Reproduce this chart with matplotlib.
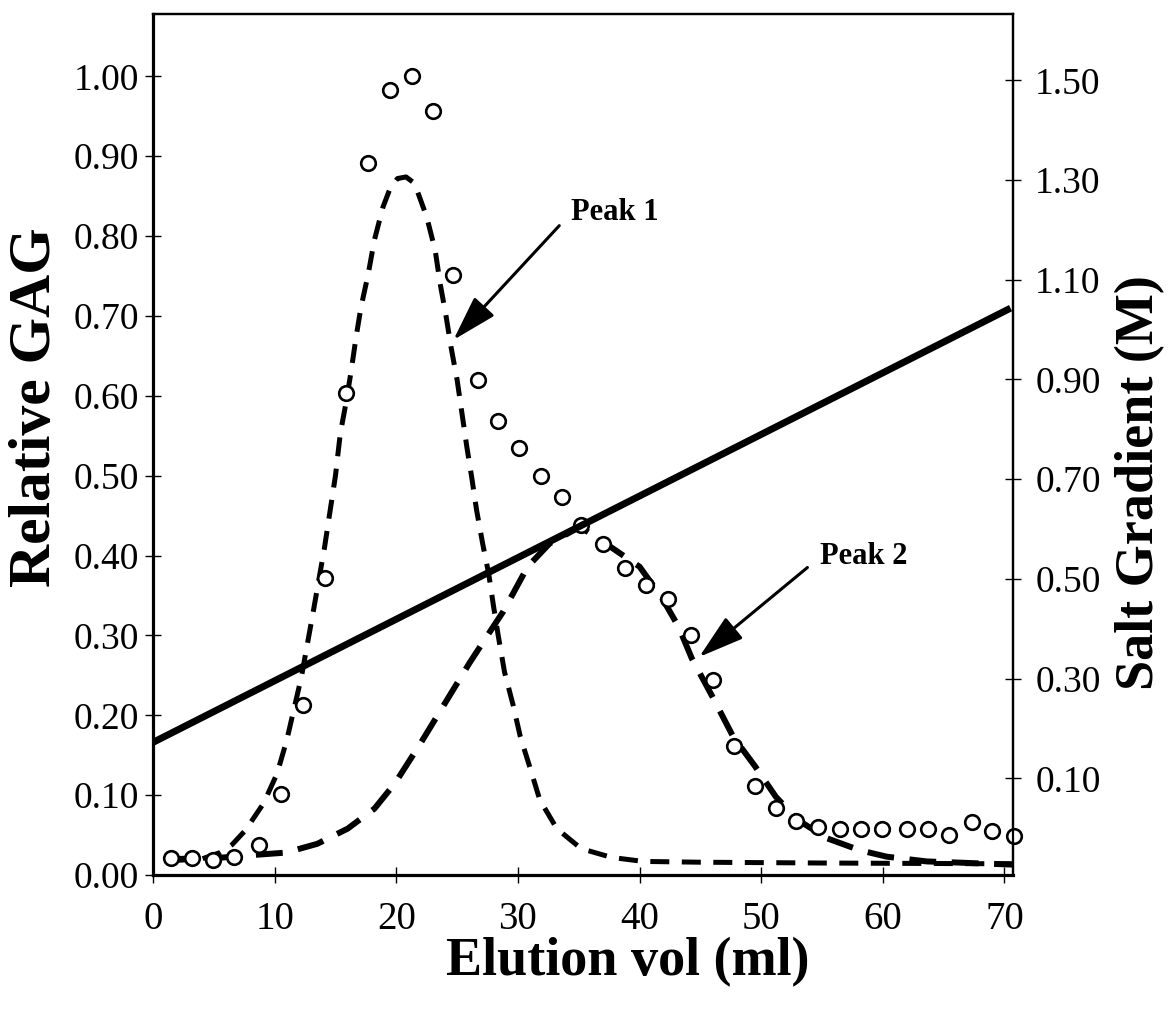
import matplotlib
matplotlib.use('Agg')
from matplotlib import pyplot as plt

plt.rcParams['font.family'] = ['Liberation Serif', 'DejaVu Serif']

# measured GAG (open circles)
gag_x = [1.45, 3.2, 4.9, 6.7, 8.7, 10.5, 12.3, 14.1, 15.9, 17.7, 19.5, 21.3,
         23.0, 24.7, 26.7, 28.4, 30.1, 31.9, 33.6, 35.2, 37.0, 38.8, 40.5,
         42.3, 44.2, 46.0, 47.8, 49.5, 51.2, 52.9, 54.7, 56.5, 58.2, 59.9,
         62.0, 63.7, 65.4, 67.3, 69.0, 70.8]
gag_y = [0.021, 0.021, 0.019, 0.022, 0.037, 0.101, 0.213, 0.372, 0.603,
         0.891, 0.983, 1.000, 0.956, 0.751, 0.620, 0.568, 0.534, 0.500,
         0.473, 0.438, 0.414, 0.384, 0.363, 0.345, 0.301, 0.244, 0.162,
         0.112, 0.084, 0.068, 0.060, 0.057, 0.057, 0.057, 0.057, 0.057,
         0.050, 0.066, 0.055, 0.049]

# fitted peak 1 (short dashes)
p1_x = [1.5, 4.0, 5.5, 6.5, 7.6, 9.1, 10.2, 11.0, 12.2, 13.2, 14.1, 15.0,
        15.4, 15.9, 16.3, 16.7, 17.1, 17.7, 18.2, 18.9, 19.5, 20.1, 20.8,
        21.5, 22.5, 23.2, 23.6, 24.1, 24.5, 25.0, 25.4, 25.8, 26.2, 26.6,
        27.1, 27.6, 28.0, 28.4, 28.9, 29.6, 30.2, 31.0, 31.8, 33.2, 35.2,
        37.7, 40.3, 45.0, 55.0, 70.7]
p1_y = [0.018, 0.020, 0.028, 0.038, 0.056, 0.090, 0.127, 0.169, 0.248,
        0.332, 0.410, 0.500, 0.553, 0.594, 0.632, 0.674, 0.711, 0.753,
        0.795, 0.836, 0.860, 0.872, 0.874, 0.866, 0.824, 0.782, 0.741,
        0.699, 0.661, 0.620, 0.578, 0.536, 0.498, 0.457, 0.415, 0.377,
        0.336, 0.298, 0.254, 0.213, 0.173, 0.134, 0.094, 0.058, 0.033,
        0.022, 0.017, 0.016, 0.015, 0.014]

# fitted peak 2 (long dashes)
p2_x = [1.5, 5.0, 8.2, 10.9, 13.5, 16.0, 18.2, 19.9, 22.0, 24.0, 26.0,
        27.5, 28.8, 29.8, 30.8, 32.6, 35.1, 37.6, 40.0, 41.8, 43.2, 44.3,
        46.0, 47.7, 49.5, 51.2, 53.0, 55.4, 58.1, 60.3, 63.6, 70.7]
p2_y = [0.020, 0.021, 0.025, 0.028, 0.039, 0.058, 0.083, 0.115, 0.165,
        0.215, 0.265, 0.300, 0.330, 0.358, 0.386, 0.415, 0.436, 0.411,
        0.386, 0.348, 0.311, 0.271, 0.223, 0.173, 0.136, 0.098, 0.069,
        0.046, 0.031, 0.023, 0.017, 0.013]

# salt gradient (right axis)
salt_x = [0, 70.5]
salt_y = [0.172, 1.043]

left_ticks = [0.0, 0.1, 0.2, 0.3, 0.4, 0.5, 0.6, 0.7, 0.8, 0.9, 1.0]
right_ticks = [0.1, 0.3, 0.5, 0.7, 0.9, 1.1, 1.3, 1.5]
x_ticks = [0, 10, 20, 30, 40, 50, 60, 70]

fig = plt.figure(figsize=(11.74, 10.13), dpi=100)
ax = fig.add_axes([153 / 1174, 138 / 1013, 860 / 1174, 861 / 1013])
ax2 = ax.twinx()

ax.plot(p1_x, p1_y, color='black', lw=3.6, dashes=(3.8, 2.5), zorder=2)
ax.plot(p2_x, p2_y, color='black', lw=4.3, dashes=(4.5, 2.6), zorder=2)
ax.plot(gag_x, gag_y, 'o', ms=10.5, mfc='white', mec='black', mew=1.9,
        zorder=3, clip_on=False)
ax2.plot(salt_x, salt_y, color='black', lw=5, solid_capstyle='butt')

ax.set_xlim(0, 70.7)
ax.set_ylim(0, 1.078)
ax2.set_ylim(-0.094, 1.633)

ax.set_xticks(x_ticks)
ax.set_yticks(left_ticks)
ax.set_yticklabels(['%.2f' % v for v in left_ticks])
ax2.set_yticks(right_ticks)
ax2.set_yticklabels(['%.2f' % v for v in right_ticks])

ax.tick_params(axis='y', direction='inout', length=12, width=1, labelsize=27, pad=4)
ax.tick_params(axis='x', direction='inout', length=11, width=1, labelsize=28, pad=13)
ax2.tick_params(axis='y', direction='inout', length=12, width=1, labelsize=27, pad=10)

for side in ['left', 'bottom']:
    ax.spines[side].set_linewidth(2.3)
for side in ['top', 'right']:
    ax.spines[side].set_linewidth(1.6)
    ax2.spines[side].set_linewidth(1.6)
ax2.spines['left'].set_visible(False)
ax2.spines['bottom'].set_visible(False)

# peak labels and arrows
ax.text(34.4, 0.830, 'Peak 1', fontsize=22, fontweight='bold', ha='left', va='center')
ax.annotate('', xy=(24.7, 0.670), xytext=(33.4, 0.813),
            arrowprops=dict(arrowstyle='-|>,head_length=1.4,head_width=0.42',
                            mutation_scale=20, lw=2.2, color='black',
                            shrinkA=0, shrinkB=0))
ax.text(54.8, 0.399, 'Peak 2', fontsize=22, fontweight='bold', ha='left', va='center')
ax.annotate('', xy=(44.9, 0.273), xytext=(53.8, 0.385),
            arrowprops=dict(arrowstyle='-|>,head_length=1.4,head_width=0.42',
                            mutation_scale=20, lw=2.2, color='black',
                            shrinkA=0, shrinkB=0))

fig.text(628 / 1174, 1 - 962 / 1013, 'Elution vol (ml)', fontsize=39,
         fontweight='bold', ha='center', va='center')
fig.text(36 / 1174, 1 - 407 / 1013, 'Relative GAG', fontsize=43,
         fontweight='bold', ha='center', va='center', rotation=90)
fig.text(1140 / 1174, 1 - 483 / 1013, 'Salt Gradient (M)', fontsize=39,
         fontweight='bold', ha='center', va='center', rotation=90)

fig.savefig('out.png', dpi=100)
